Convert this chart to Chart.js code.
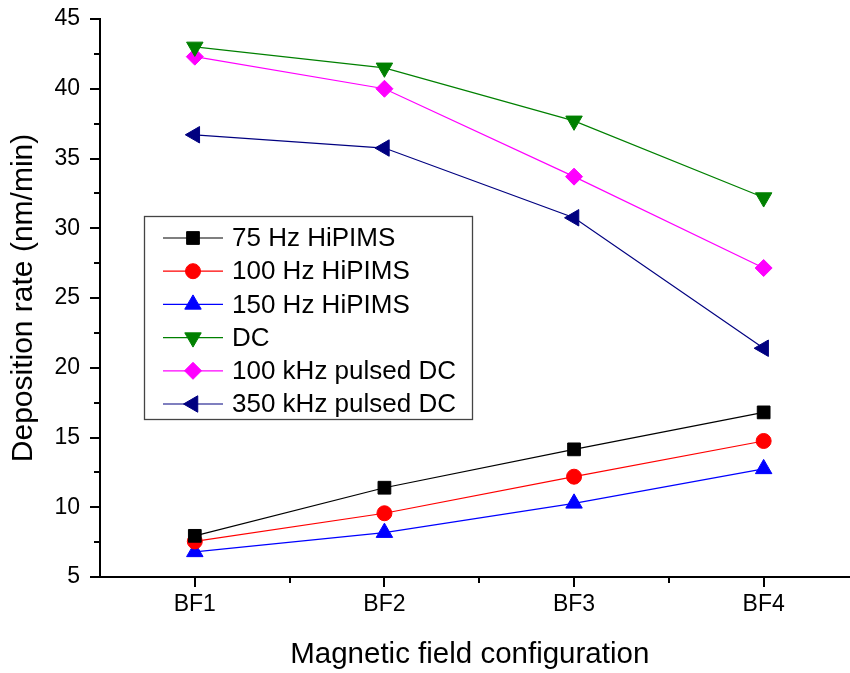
<!DOCTYPE html>
<html><head><meta charset="utf-8">
<script src="https://cdn.jsdelivr.net/npm/chart.js@4.4.0/dist/chart.umd.min.js"></script>
<style>html,body{margin:0;padding:0;background:#fff;}#wrap{width:850px;height:673px;}</style>
</head><body><div id="wrap"><canvas id="c" width="850" height="673"></canvas></div>
<script>
const categories = ['BF1', 'BF2', 'BF3', 'BF4'];
const seriesNames = ['75 Hz HiPIMS', '100 Hz HiPIMS', '150 Hz HiPIMS', 'DC', '100 kHz pulsed DC', '350 kHz pulsed DC'];
const hipims75 = [7.95, 11.4, 14.15, 16.8];
const hipims100 = [7.55, 9.57, 12.19, 14.75];
const hipims150 = [6.8, 8.18, 10.28, 12.75];
const dcValues = [43.0, 41.5, 37.7, 32.2];
const pulsed100k = [42.3, 40.0, 33.7, 27.15];
const pulsed350k = [36.7, 35.75, 30.75, 21.4];
const yMin = 5, yMax = 45, yStep = 5;
const xTitle = 'Magnetic field configuration';
const yTitle = 'Deposition rate (nm/min)';

const FONT = "'Liberation Sans', Arial, sans-serif";
Chart.defaults.font.family = FONT;
Chart.defaults.color = '#000';

const styles = [
  {color: '#000000', line: '#000000', pointStyle: 'rect', radius: 9, rotation: 0},
  {color: '#ff0000', line: '#ff0000', pointStyle: 'circle', radius: 7.5, rotation: 0},
  {color: '#0000ff', line: '#0000ff', pointStyle: 'triangle', radius: 9.5, rotation: 0},
  {color: '#008000', line: '#008000', pointStyle: 'triangle', radius: 9.5, rotation: 180},
  {color: '#ff00ff', line: '#ff00ff', pointStyle: 'rectRot', radius: 8.5, rotation: 0},
  {color: '#000080', line: '#000080', pointStyle: 'triangle', radius: 9.5, rotation: 270}
];
const seriesValues = [hipims75, hipims100, hipims150, dcValues, pulsed100k, pulsed350k];

const datasets = seriesValues.map((vals, k) => ({
  label: seriesNames[k],
  data: vals.map((v, i) => ({x: i, y: v})),
  borderColor: styles[k].line,
  backgroundColor: styles[k].color,
  pointBackgroundColor: styles[k].color,
  pointBorderColor: styles[k].color,
  pointBorderWidth: 1,
  pointStyle: styles[k].pointStyle,
  pointRadius: styles[k].radius,
  pointRotation: styles[k].rotation,
  borderWidth: 1.2,
  tension: 0,
  clip: false
}));

const axisTicks = {
  id: 'axisTicks',
  afterDraw(chart) {
    const {ctx, scales: {x, y}, chartArea} = chart;
    ctx.save();
    ctx.strokeStyle = '#000';
    ctx.lineWidth = 2;
    ctx.beginPath();
    for (let v = yMin; v <= yMax + 1e-9; v += yStep / 2) {
      const py = Math.round(y.getPixelForValue(v));
      const major = Math.abs((v - yMin) % yStep) < 1e-9;
      const len = major ? 10 : 6;
      ctx.moveTo(chartArea.left, py);
      ctx.lineTo(chartArea.left - len, py);
    }
    for (let i = 0; i < categories.length; i++) {
      const px = Math.round(x.getPixelForValue(i));
      ctx.moveTo(px, chartArea.bottom);
      ctx.lineTo(px, chartArea.bottom + 10);
      if (i < categories.length - 1) {
        const pm = Math.round(x.getPixelForValue(i + 0.5));
        ctx.moveTo(pm, chartArea.bottom);
        ctx.lineTo(pm, chartArea.bottom + 6);
      }
    }
    // axis line continues to the right edge of the figure
    ctx.moveTo(chartArea.right - 1, chartArea.bottom);
    ctx.lineTo(chart.width, chartArea.bottom);
    ctx.stroke();
    ctx.restore();
  }
};

const boxLegend = {
  id: 'boxLegend',
  afterDatasetsDraw(chart) {
    const ctx = chart.ctx;
    const bx = 144, by = 216, bw = 328, bh = 203;
    const row0 = 238, rowH = 33.2;
    ctx.save();
    ctx.fillStyle = '#fff';
    ctx.fillRect(bx, by, bw, bh);
    ctx.strokeStyle = '#444';
    ctx.lineWidth = 1.3;
    ctx.strokeRect(bx + 0.5, by + 0.5, bw, bh);
    chart.data.datasets.forEach((ds, k) => {
      const yy = row0 + k * rowH;
      ctx.strokeStyle = ds.borderColor;
      ctx.lineWidth = 1.2;
      ctx.beginPath();
      ctx.moveTo(163, yy);
      ctx.lineTo(223, yy);
      ctx.stroke();
      ctx.fillStyle = ds.pointBackgroundColor;
      ctx.strokeStyle = ds.pointBorderColor;
      ctx.lineWidth = 1;
      Chart.helpers.drawPoint(ctx, {pointStyle: ds.pointStyle, rotation: ds.pointRotation, radius: ds.pointRadius, borderWidth: 1}, 193, yy);
      ctx.fillStyle = '#000';
      ctx.font = '26px ' + FONT;
      ctx.textBaseline = 'middle';
      ctx.textAlign = 'left';
      ctx.fillText(ds.label, 232, yy + 1);
    });
    ctx.restore();
  }
};

new Chart(document.getElementById('c'), {
  type: 'line',
  data: {datasets},
  options: {
    responsive: false,
    animation: false,
    devicePixelRatio: 1,
    layout: {padding: {top: 19, right: 0, left: 0, bottom: 0}},
    plugins: {legend: {display: false}, tooltip: {enabled: false}},
    scales: {
      x: {
        type: 'linear',
        min: -0.5,
        max: 3.4,
        afterBuildTicks: s => { s.ticks = categories.map((c, i) => ({value: i})); },
        afterFit: s => { s.height = 96; s.paddingLeft = 0; s.paddingRight = 0; s.paddingTop = 0; s.paddingBottom = 0; },
        ticks: {callback: v => categories[v] ?? '', font: {size: 23}, color: '#000', padding: 14, autoSkip: false, maxRotation: 0},
        grid: {display: true, drawOnChartArea: false, drawTicks: false},
        border: {display: true, color: '#000', width: 2},
        title: {display: true, text: xTitle, font: {size: 29.5}, color: '#000', padding: {top: 3, bottom: 0}}
      },
      y: {
        type: 'linear',
        min: yMin,
        max: yMax,
        afterFit: s => { s.width = 100; s.paddingTop = 0; s.paddingBottom = 0; s.paddingLeft = 0; s.paddingRight = 0; },
        ticks: {stepSize: yStep, font: {size: 23}, color: '#000', padding: 20},
        grid: {display: true, drawOnChartArea: false, drawTicks: false},
        border: {display: true, color: '#000', width: 2},
        title: {display: true, text: yTitle, font: {size: 30}, color: '#000', padding: {top: 6, bottom: 0}}
      }
    }
  },
  plugins: [axisTicks, boxLegend]
});
</script>
</body></html>
